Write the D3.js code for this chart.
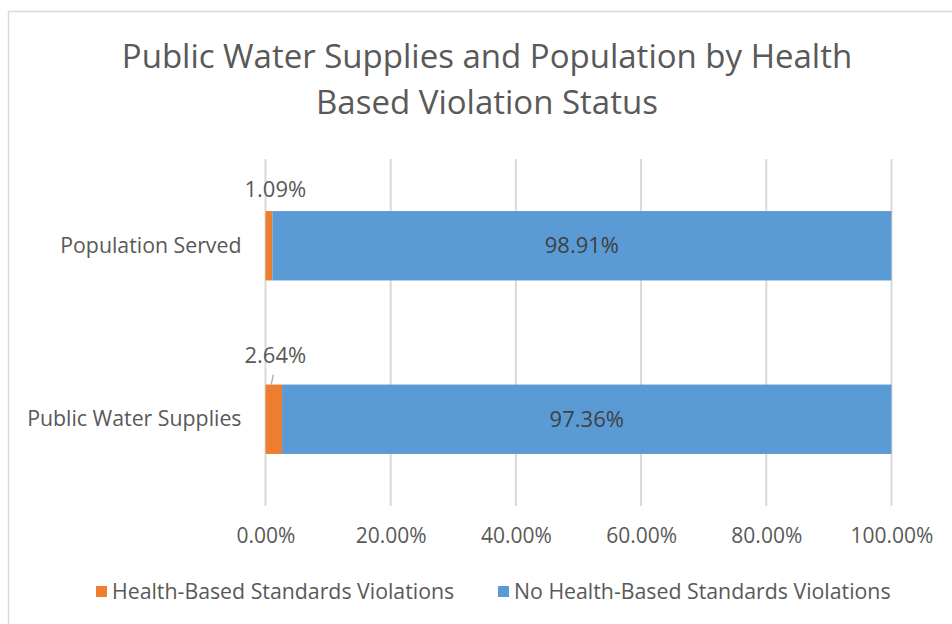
<!DOCTYPE html>
<html>
<head>
<meta charset="utf-8">
<script src="https://cdn.jsdelivr.net/npm/d3@7"></script>
<style>
  body { margin: 0; background: #fff; }
  text { font-family: "Open Sans", sans-serif; fill: #595959; }
</style>
</head>
<body>
<div id="wrapper"></div>
<script>
const categories = ["Population Served", "Public Water Supplies"];
const seriesNames = ["Health-Based Standards Violations", "No Health-Based Standards Violations"];
const violations = [0.0109, 0.0264];
const noViolations = [0.9891, 0.9736];
const tickValues = [0, 0.2, 0.4, 0.6, 0.8, 1.0];
const titleLines = ["Public Water Supplies and Population by Health", "Based Violation Status"];

const colors = ["#ED7D31", "#5B9BD5"];

let dimensions = {
  width: 952,
  height: 624,
  margin: { top: 159, right: 60.5, bottom: 118, left: 265.5 },
}
dimensions.boundedWidth = dimensions.width - dimensions.margin.left - dimensions.margin.right;
dimensions.boundedHeight = dimensions.height - dimensions.margin.top - dimensions.margin.bottom;

const wrapper = d3.select("#wrapper").append("svg")
  .attr("width", dimensions.width)
  .attr("height", dimensions.height);

// chart frame (runs off the right and bottom edge like the screenshot)
wrapper.append("rect")
  .attr("x", 8.5).attr("y", 11.5)
  .attr("width", 980).attr("height", 640)
  .attr("fill", "#fff")
  .attr("stroke", "#d9d9d9")
  .attr("stroke-width", 1.5);

wrapper.append("g").selectAll("text")
  .data(titleLines)
  .join("text")
  .attr("x", 487)
  .attr("y", (d, i) => 68 + i * 46)
  .attr("text-anchor", "middle")
  .style("font-size", "33px")
  .text(d => d);

const bounds = wrapper.append("g")
  .attr("transform", `translate(${dimensions.margin.left},${dimensions.margin.top})`);

const xScale = d3.scaleLinear().domain([0, 1]).range([0, dimensions.boundedWidth]);
const yScale = d3.scaleBand().domain(categories).range([0, dimensions.boundedHeight])
  .paddingInner(0.6).paddingOuter(0.3);

// gridlines
bounds.append("g").selectAll("line")
  .data(tickValues)
  .join("line")
  .attr("x1", d => xScale(d)).attr("x2", d => xScale(d))
  .attr("y1", 0).attr("y2", dimensions.boundedHeight)
  .attr("stroke", "#d9d9d9")
  .attr("stroke-width", 2);

// x axis labels
const xAxisGenerator = d3.axisBottom(xScale)
  .tickValues(tickValues)
  .tickSize(0)
  .tickPadding(22)
  .tickFormat(d3.format(".2%"));
const xAxis = bounds.append("g")
  .attr("transform", `translate(0,${dimensions.boundedHeight})`)
  .call(xAxisGenerator);
xAxis.select(".domain").remove();
xAxis.selectAll("text").style("font-size", "21px").attr("fill", "#595959").style("font-family", "'Open Sans', sans-serif");

// y axis labels
const yAxisGenerator = d3.axisLeft(yScale).tickSize(0).tickPadding(24);
const yAxis = bounds.append("g").call(yAxisGenerator);
yAxis.select(".domain").remove();
yAxis.selectAll("text").style("font-size", "21.3px").attr("fill", "#595959").style("font-family", "'Open Sans', sans-serif");

const stackData = categories.map((c, i) => ({ category: c, v0: violations[i], v1: noViolations[i] }));
const stacked = d3.stack().keys(["v0", "v1"])(stackData);

const layers = bounds.append("g").selectAll("g")
  .data(stacked)
  .join("g")
  .attr("fill", (d, i) => colors[i]);

layers.selectAll("rect")
  .data(d => d)
  .join("rect")
  .attr("x", d => xScale(d[0]))
  .attr("width", d => xScale(d[1]) - xScale(d[0]))
  .attr("y", d => yScale(d.data.category))
  .attr("height", yScale.bandwidth());

// labels for the small orange segments, above the bar
const smallLabelLift = [14, 22];
bounds.append("g").selectAll("text")
  .data(stacked[0])
  .join("text")
  .attr("x", xScale(0) - 21)
  .attr("y", (d, i) => yScale(d.data.category) - smallLabelLift[i])
  .style("font-size", "22px")
  .text(d => d3.format(".2%")(d[1] - d[0]));

// leader line for the second small label
bounds.append("line")
  .attr("x1", xScale(violations[1] / 2) - 0.5)
  .attr("x2", xScale(violations[1] / 2) - 2.5)
  .attr("y1", yScale(categories[1]) - 10)
  .attr("y2", yScale(categories[1]))
  .attr("stroke", "#a6a6a6")
  .attr("stroke-width", 1.2);

// labels inside the blue segments
bounds.append("g").selectAll("text")
  .data(stacked[1])
  .join("text")
  .attr("x", d => xScale((d[0] + d[1]) / 2))
  .attr("y", d => yScale(d.data.category) + yScale.bandwidth() / 2)
  .attr("text-anchor", "middle")
  .attr("dy", "0.35em")
  .style("font-size", "22px")
  .style("fill", "#404040")
  .text(d => d3.format(".2%")(d[1] - d[0]));

// legend
const legendX = [96, 498];
const legend = wrapper.append("g").selectAll("g")
  .data(seriesNames)
  .join("g")
  .attr("transform", (d, i) => `translate(${legendX[i]},586)`);
legend.append("rect")
  .attr("width", 11).attr("height", 11)
  .attr("fill", (d, i) => colors[i]);
legend.append("text")
  .attr("x", 16)
  .attr("y", 5.5)
  .attr("dy", "0.35em")
  .style("font-size", "21.3px")
  .text(d => d);
</script>
</body>
</html>
